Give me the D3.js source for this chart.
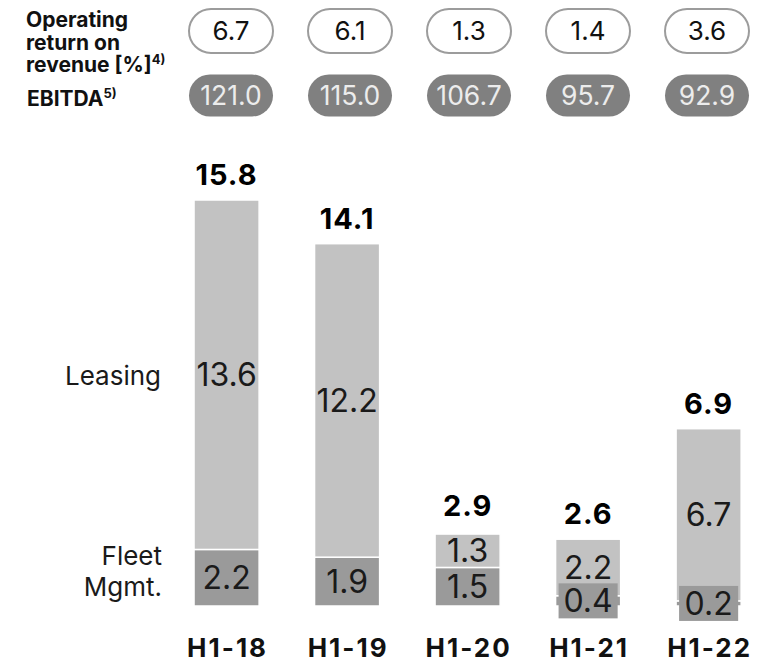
<!DOCTYPE html>
<html>
<head>
<meta charset="utf-8">
<script src="https://cdn.jsdelivr.net/npm/d3@7"></script>
<style>
  html, body { margin: 0; padding: 0; background: #fff; }
  svg { display: block; font-family: Inter, "Noto Sans", sans-serif; }
</style>
</head>
<body>
<svg id="chart" width="772" height="662"></svg>
<script>
// Half-year periods
const periods = ["H1-18", "H1-19", "H1-20", "H1-21", "H1-22"];
// Segment results (stacked, bottom to top)
const fleetMgmt = [2.2, 1.9, 1.5, 0.4, 0.2];
const leasing = [13.6, 12.2, 1.3, 2.2, 6.7];
const totals = [15.8, 14.1, 2.9, 2.6, 6.9];
// Key figures shown in the pills above the bars
const operatingReturn = [6.7, 6.1, 1.3, 1.4, 3.6];
const ebitda = [121.0, 115.0, 106.7, 95.7, 92.9];

const colors = { leasing: "#c2c2c2", fleet: "#9a9a9a", pill: "#808080", pillStroke: "#9c9c9c", text: "#1a1a1a" };

const svg = d3.select("#chart");

const x = d3.scaleBand().domain(periods).range([138.6, 796.6]).padding(0.46);
const y = d3.scaleLinear().domain([0, 15.8]).range([606, 200]);
const pillX = d3.scalePoint().domain(periods).range([231, 707]);

const data = periods.map((p, i) => ({
  period: p,
  segments: [
    { key: "fleet", y0: 0, y1: fleetMgmt[i], value: fleetMgmt[i] },
    { key: "leasing", y0: fleetMgmt[i], y1: fleetMgmt[i] + leasing[i], value: leasing[i] }
  ],
  total: totals[i]
}));

// Stacked bars
const groups = svg.append("g").selectAll("g").data(data).join("g");

groups.selectAll("rect.seg").data(d => d.segments.map(s => ({ ...s, period: d.period })))
  .join("rect")
  .attr("class", "seg")
  .attr("x", d => x(d.period))
  .attr("width", x.bandwidth())
  .attr("y", d => y(d.y1))
  .attr("height", d => y(d.y0) - y(d.y1))
  .attr("fill", d => colors[d.key])
  .attr("stroke", "#fff")
  .attr("stroke-width", 1.5);

// Segment value labels; thin segments get a label box
const segLabels = groups.selectAll("g.seglabel").data(d => d.segments.map(s => ({ ...s, period: d.period })))
  .join("g").attr("class", "seglabel")
  .attr("transform", d => `translate(${x(d.period) + x.bandwidth() / 2},${(y(d.y0) + y(d.y1)) / 2})`);

segLabels.filter(d => y(d.y0) - y(d.y1) < 20)
  .append("rect")
  .attr("x", -(x.bandwidth() - 6) / 2)
  .attr("width", x.bandwidth() - 6)
  .attr("y", -17.5)
  .attr("height", 35)
  .attr("fill", d => colors[d.key]);

segLabels.append("text")
  .attr("text-anchor", "middle")
  .attr("dy", "0.36em")
  .attr("font-size", 32)
  .attr("fill", colors.text)
  .text(d => d.value.toFixed(1));

// Totals above the bars
groups.append("text")
  .attr("x", d => x(d.period) + x.bandwidth() / 2)
  .attr("y", d => y(d.total) - 15)
  .attr("text-anchor", "middle")
  .attr("font-size", 29)
  .attr("font-weight", 700)
  .attr("letter-spacing", 1)
  .attr("fill", "#000")
  .text(d => d.total.toFixed(1));

// Period labels
svg.append("g").selectAll("text").data(periods).join("text")
  .attr("x", d => x(d) + x.bandwidth() / 2 + 1)
  .attr("y", 657)
  .attr("text-anchor", "middle")
  .attr("font-size", 26)
  .attr("font-weight", 700)
  .attr("letter-spacing", 2)
  .attr("fill", "#111")
  .text(d => d);

// Series labels on the left
svg.append("text").attr("x", 161).attr("y", 385).attr("text-anchor", "end")
  .attr("font-size", 26).attr("fill", colors.text).text("Leasing");
const fleetLbl = svg.append("text").attr("text-anchor", "end").attr("font-size", 26).attr("fill", colors.text);
fleetLbl.append("tspan").attr("x", 162).attr("y", 565).text("Fleet");
fleetLbl.append("tspan").attr("x", 162).attr("y", 596).text("Mgmt.");

// Pill rows
const pillW = 84, pillH = 44;
const opRow = svg.append("g").selectAll("g").data(periods).join("g")
  .attr("transform", d => `translate(${pillX(d)},31)`);
opRow.append("rect")
  .attr("x", -pillW / 2).attr("y", -pillH / 2).attr("width", pillW).attr("height", pillH)
  .attr("rx", pillH / 2).attr("fill", "#fff").attr("stroke", colors.pillStroke).attr("stroke-width", 2);
opRow.append("text").attr("text-anchor", "middle").attr("dy", "0.36em")
  .attr("font-size", 26).attr("fill", "#111")
  .text((d, i) => operatingReturn[i].toFixed(1));

const ebRow = svg.append("g").selectAll("g").data(periods).join("g")
  .attr("transform", d => `translate(${pillX(d)},95.5)`);
ebRow.append("rect")
  .attr("x", -pillW / 2).attr("y", -21).attr("width", pillW).attr("height", 42)
  .attr("rx", 21).attr("fill", colors.pill);
ebRow.append("text").attr("text-anchor", "middle").attr("dy", "0.36em")
  .attr("font-size", 26.5).attr("fill", "#ececec")
  .text((d, i) => ebitda[i].toFixed(1));

// Row headings
const opHead = svg.append("text").attr("font-size", 21).attr("font-weight", 700).attr("fill", "#111");
opHead.append("tspan").attr("x", 26).attr("y", 27).text("Operating");
opHead.append("tspan").attr("x", 26).attr("y", 49.5).text("return on");
opHead.append("tspan").attr("x", 26).attr("y", 72).text("revenue [%]");
opHead.append("tspan").attr("font-size", 13).attr("dy", -8).text("4)");

const ebHead = svg.append("text").attr("x", 27).attr("y", 106).attr("font-size", 21).attr("font-weight", 700).attr("fill", "#111");
ebHead.append("tspan").text("EBITDA");
ebHead.append("tspan").attr("font-size", 13).attr("dy", -8).text("5)");
</script>
</body>
</html>
